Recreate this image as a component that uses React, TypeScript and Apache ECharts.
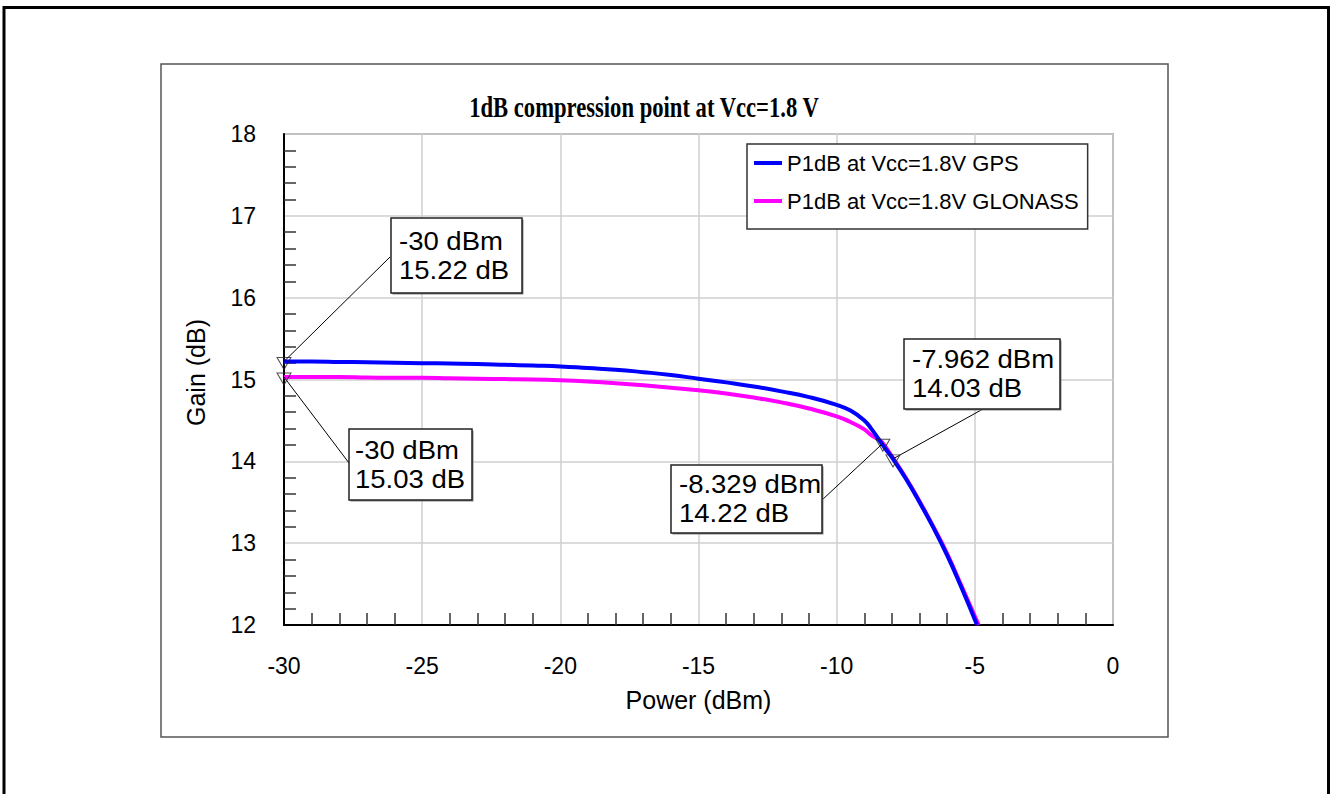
import React, { useEffect, useRef } from 'react';
import * as echarts from 'echarts';

const chartTitle = '1dB compression point at Vcc=1.8 V';
const xAxisName = 'Power (dBm)';
const yAxisName = 'Gain (dB)';
const gpsName = 'P1dB at Vcc=1.8V GPS';
const glonassName = 'P1dB at Vcc=1.8V GLONASS';

// axis ranges / ticks
const xMin = -30;
const xMax = 0;
const xStep = 5;
const yMin = 12;
const yMax = 18;
const yStep = 1;

// GPS curve
const gpsPower = [-30, -29, -28, -27, -26, -25, -24, -23, -22, -21, -20, -19, -18, -17, -16, -15, -14, -13, -12, -11, -10, -9.5, -9.0, -8.75, -8.5, -8.25, -7.962, -7.5, -7.0, -6.5, -6.0, -5.5, -4.92];
const gpsGain = [15.22, 15.22, 15.215, 15.21, 15.205, 15.2, 15.195, 15.19, 15.18, 15.17, 15.16, 15.14, 15.12, 15.09, 15.055, 15.01, 14.965, 14.915, 14.855, 14.785, 14.69, 14.62, 14.5, 14.4, 14.28, 14.16, 14.03, 13.79, 13.5, 13.19, 12.85, 12.47, 12.0];

// GLONASS curve
const glonassPower = [-30, -29, -28, -27, -26, -25, -24, -23, -22, -21, -20, -19, -18, -17, -16, -15, -14, -13, -12, -11, -10, -9.5, -9.0, -8.75, -8.5, -8.329, -8.0, -7.5, -7.0, -6.5, -6.0, -5.5, -4.86];
const glonassGain = [15.03, 15.03, 15.03, 15.025, 15.02, 15.02, 15.015, 15.01, 15.005, 15.0, 14.99, 14.975, 14.955, 14.93, 14.9, 14.87, 14.83, 14.78, 14.72, 14.645, 14.55, 14.48, 14.39, 14.32, 14.27, 14.22, 14.06, 13.8, 13.51, 13.2, 12.87, 12.49, 12.0];

// markers (power, gain)
const markerPower = [-30, -30, -7.962, -8.329];
const markerGain = [15.22, 15.03, 14.03, 14.22];

// callout layout (pixels): box rect, text padding, leader start
const calloutBoxes = [
  { x: 391, y: 218, w: 131, h: 75, pad: 8, lx: 390, ly: 257 },
  { x: 349, y: 429, w: 123, h: 71, pad: 6, lx: 349, ly: 463 },
  { x: 904, y: 339, w: 156, h: 70, pad: 8, lx: 983, ly: 409 },
  { x: 671, y: 465, w: 151, h: 68, pad: 8, lx: 822, ly: 500 },
];

const SANS = '"Liberation Sans", Arial, sans-serif';
const SERIF = '"Liberation Serif", "Times New Roman", serif';

function buildOption() {
  const calloutGraphics: any[] = [];
  calloutBoxes.forEach((b, i) => {
    calloutGraphics.push({
      type: 'rect',
      z: 20,
      shape: { x: b.x + 1.5, y: b.y + 1.5, width: b.w, height: b.h },
      style: { fill: '#888', stroke: null },
    });
    calloutGraphics.push({
      type: 'rect',
      z: 21,
      shape: { x: b.x, y: b.y, width: b.w, height: b.h },
      style: { fill: '#fff', stroke: '#222', lineWidth: 1.5 },
    });
    calloutGraphics.push({
      type: 'text',
      z: 22,
      x: b.x + b.pad,
      y: b.y + b.h / 2,
      scaleX: 1.1,
      style: {
        text: `${markerPower[i]} dBm\n${markerGain[i]} dB`,
        fontSize: 25,
        fontFamily: SANS,
        lineHeight: 29,
        fill: '#000',
        align: 'left',
        verticalAlign: 'middle',
      },
    });
  });

  return {
    animation: false,
    backgroundColor: '#fff',
    legend: {
      data: [gpsName, glonassName],
      orient: 'vertical',
      left: 747,
      top: 144,
      padding: [8, 9, 17, 7],
      itemGap: 16,
      icon: 'rect',
      itemWidth: 28,
      itemHeight: 4,
      backgroundColor: '#fff',
      borderColor: '#333',
      borderWidth: 1.5,
      textStyle: { fontFamily: SANS, fontSize: 22, color: '#000' },
      selectedMode: false,
    },
    grid: {
      left: 284,
      top: 134,
      right: 217,
      bottom: 169,
      show: true,
      borderColor: '#777',
      borderWidth: 1.5,
      backgroundColor: 'transparent',
    },
    xAxis: {
      type: 'value',
      min: xMin,
      max: xMax,
      interval: xStep,
      name: xAxisName,
      nameLocation: 'middle',
      nameGap: 62,
      nameTextStyle: { fontFamily: SANS, fontSize: 25, color: '#000' },
      axisLine: { show: true, onZero: false, lineStyle: { color: '#000', width: 2 } },
      axisTick: { show: false, inside: true },
      minorTick: { show: true, splitNumber: 5, length: 12, lineStyle: { color: '#333', width: 1.5 } },
      splitLine: { show: true, lineStyle: { color: '#cfcfcf', width: 1.5 } },
      axisLabel: { fontFamily: SANS, fontSize: 23, color: '#000', margin: 29 },
    },
    yAxis: {
      type: 'value',
      min: yMin,
      max: yMax,
      interval: yStep,
      name: yAxisName,
      nameLocation: 'middle',
      nameGap: 76,
      nameTextStyle: { fontFamily: SANS, fontSize: 25, color: '#000', padding: [0, 0, 0, 14] },
      axisLine: { show: true, onZero: false, lineStyle: { color: '#000', width: 2 } },
      axisTick: { show: false, inside: true },
      minorTick: { show: true, splitNumber: 5, length: 12, lineStyle: { color: '#333', width: 1.5 } },
      splitLine: { show: true, lineStyle: { color: '#cfcfcf', width: 1.5 } },
      axisLabel: { fontFamily: SANS, fontSize: 23, color: '#000', margin: 28, padding: [6, 0, 0, 0] },
    },
    series: [
      {
        name: glonassName,
        type: 'line',
        z: 3,
        data: glonassPower.map((p, i) => [p, glonassGain[i]]),
        color: '#ff00ff',
        lineStyle: { color: '#ff00ff', width: 4 },
        symbol: 'none',
        showSymbol: false,
        smooth: 0.5,
        silent: true,
      },
      {
        name: gpsName,
        type: 'line',
        z: 4,
        data: gpsPower.map((p, i) => [p, gpsGain[i]]),
        color: '#0000ff',
        lineStyle: { color: '#0000ff', width: 4 },
        symbol: 'none',
        showSymbol: false,
        smooth: 0.5,
        silent: true,
      },
      {
        name: 'markers',
        type: 'scatter',
        z: 5,
        clip: false,
        silent: true,
        data: markerPower.map((p, i) => [p, markerGain[i]]),
        symbol: 'path://M0,0 L14,0 L7,12 Z',
        symbolSize: [14, 12],
        symbolOffset: [0, 2],
        itemStyle: { color: 'rgba(0,0,0,0)', borderColor: '#222', borderWidth: 1 },
        markLine: {
          silent: true,
          symbol: ['none', 'none'],
          label: { show: false },
          lineStyle: { color: '#000', width: 1, type: 'solid' },
          emphasis: { disabled: true },
          data: calloutBoxes.map((b, i) => [
            { x: b.lx, y: b.ly },
            { coord: [markerPower[i], markerGain[i]] },
          ]),
        },
      },
    ],
    graphic: [
      {
        type: 'rect',
        z: 0,
        silent: true,
        shape: { x: 4, y: 7.5, width: 1324.5, height: 800 },
        style: { fill: 'none', stroke: '#000', lineWidth: 3 },
      },
      {
        type: 'rect',
        z: 0,
        silent: true,
        shape: { x: 161, y: 64, width: 1007, height: 673 },
        style: { fill: 'none', stroke: '#555', lineWidth: 1.5 },
      },
      {
        type: 'text',
        z: 10,
        silent: true,
        x: 644,
        y: 108,
        scaleX: 0.78,
        style: {
          text: chartTitle,
          fontFamily: SERIF,
          fontWeight: 'bold',
          fontSize: 29,
          fill: '#000',
          align: 'center',
          verticalAlign: 'middle',
        },
      },
      ...calloutGraphics,
    ],
  };
}

export default function App() {
  const ref = useRef<HTMLDivElement>(null);
  useEffect(() => {
    if (!ref.current) return;
    const chart = echarts.init(ref.current, null, { renderer: 'svg' });
    chart.setOption(buildOption() as any);
    return () => {
      chart.dispose();
    };
  }, []);
  return (
    <div
      ref={ref}
      style={{ position: 'absolute', left: 0, top: 0, width: 1330, height: 794, background: '#fff' }}
    />
  );
}
